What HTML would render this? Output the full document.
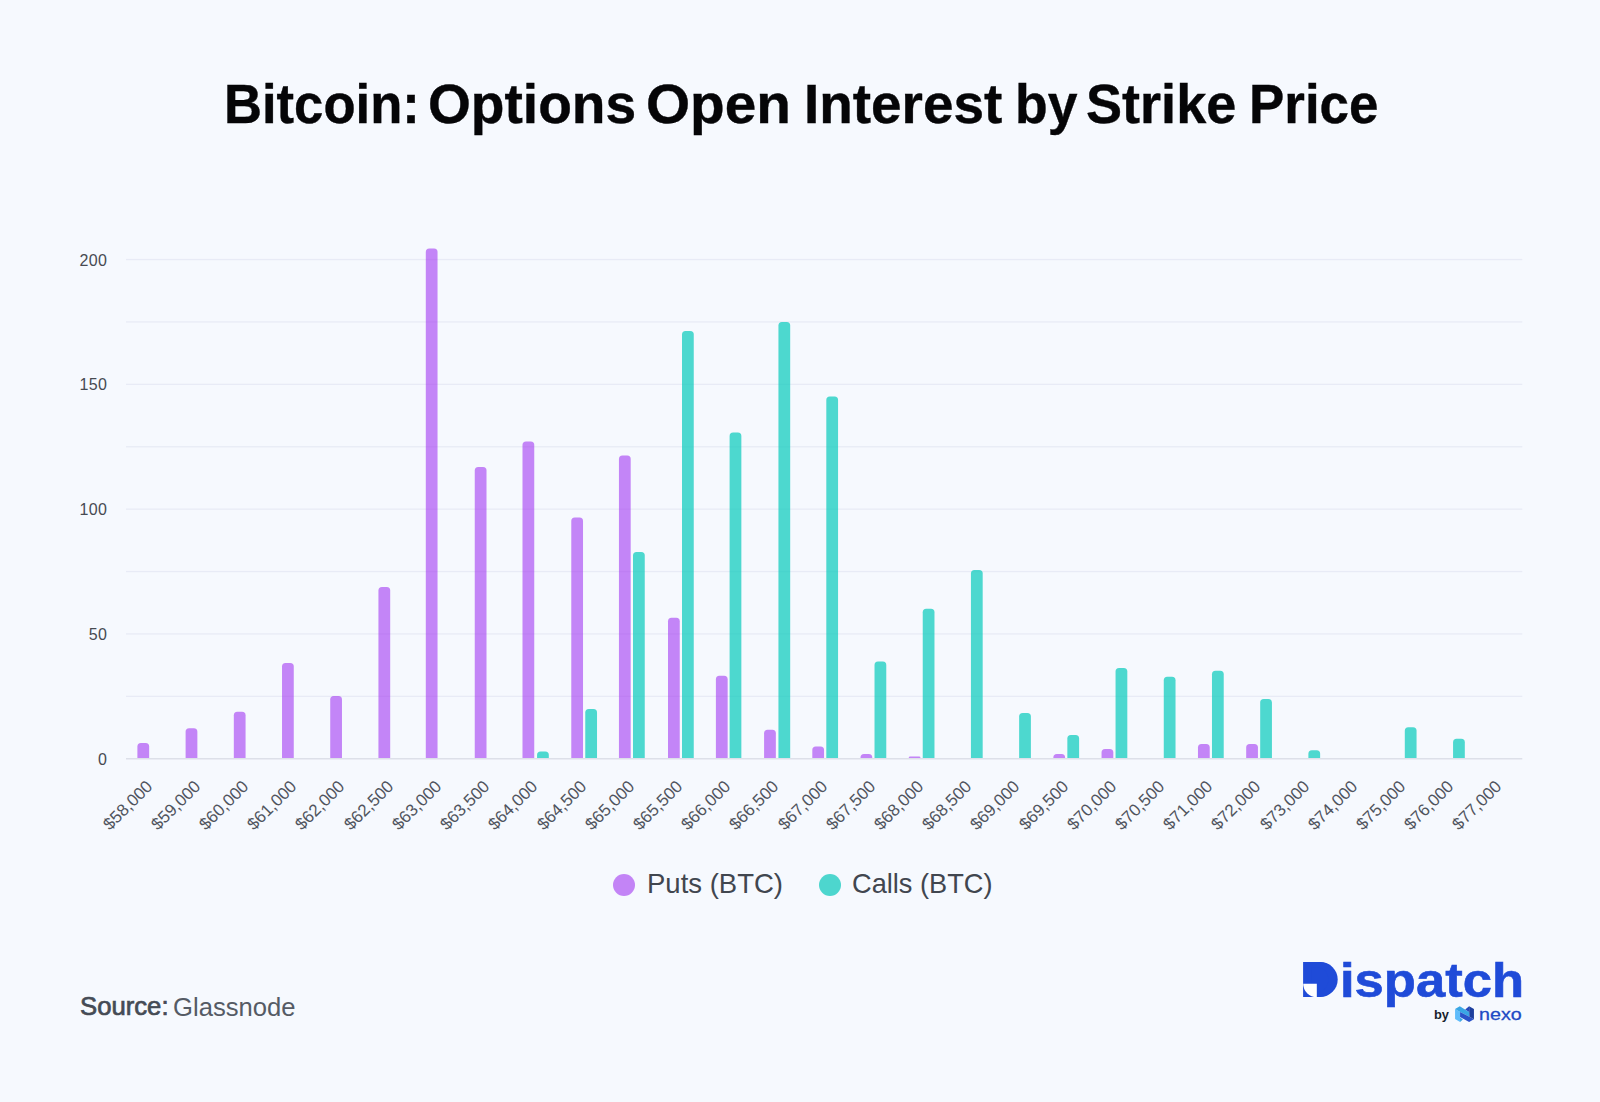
<!DOCTYPE html>
<html lang="en">
<head>
<meta charset="utf-8">
<title>Bitcoin: Options Open Interest by Strike Price</title>
<style>
html,body{margin:0;padding:0;}
body{width:1600px;height:1102px;background:#f6f9fe;position:relative;overflow:hidden;
  font-family:"Liberation Sans",sans-serif;color:#000;}
.abs{position:absolute;white-space:nowrap;}
.ft{position:absolute;white-space:nowrap;transform-origin:0 0;display:block;}
#chart{position:absolute;left:0;top:0;width:1600px;height:1102px;}
.xl{position:absolute;width:200px;height:20px;line-height:20px;text-align:right;font-size:17.0px;letter-spacing:0px;color:#50545d;
  transform-origin:100% 50%;transform:rotate(-45deg);white-space:nowrap;}
.dot{position:absolute;width:22px;height:22px;border-radius:50%;top:873.9px;}
</style>
</head>
<body>
<svg id="chart" width="1600" height="1102" viewBox="0 0 1600 1102">
<rect x="126" y="258.90" width="1396.3" height="1.3" fill="#e8ebf6"/>
<rect x="126" y="321.30" width="1396.3" height="1.3" fill="#e8ebf6"/>
<rect x="126" y="383.70" width="1396.3" height="1.3" fill="#e8ebf6"/>
<rect x="126" y="446.10" width="1396.3" height="1.3" fill="#e8ebf6"/>
<rect x="126" y="508.50" width="1396.3" height="1.3" fill="#e8ebf6"/>
<rect x="126" y="570.90" width="1396.3" height="1.3" fill="#e8ebf6"/>
<rect x="126" y="633.30" width="1396.3" height="1.3" fill="#e8ebf6"/>
<rect x="126" y="695.70" width="1396.3" height="1.3" fill="#e8ebf6"/>
<g>
<path d="M137.40 758.00V746.40Q137.40 742.90 140.90 742.90H145.65Q149.15 742.90 149.15 746.40V758.00Z" fill="rgba(162,55,241,0.6)"/>
<path d="M185.61 758.00V731.75Q185.61 728.25 189.11 728.25H193.86Q197.36 728.25 197.36 731.75V758.00Z" fill="rgba(162,55,241,0.6)"/>
<path d="M233.82 758.00V715.25Q233.82 711.75 237.32 711.75H242.07Q245.57 711.75 245.57 715.25V758.00Z" fill="rgba(162,55,241,0.6)"/>
<path d="M282.02 758.00V666.50Q282.02 663.00 285.52 663.00H290.27Q293.77 663.00 293.77 666.50V758.00Z" fill="rgba(162,55,241,0.6)"/>
<path d="M330.23 758.00V699.50Q330.23 696.00 333.73 696.00H338.48Q341.98 696.00 341.98 699.50V758.00Z" fill="rgba(162,55,241,0.6)"/>
<path d="M378.44 758.00V590.50Q378.44 587.00 381.94 587.00H386.69Q390.19 587.00 390.19 590.50V758.00Z" fill="rgba(162,55,241,0.6)"/>
<path d="M425.80 758.00V252.10Q425.80 248.60 429.30 248.60H434.05Q437.55 248.60 437.55 252.10V758.00Z" fill="rgba(162,55,241,0.6)"/>
<path d="M474.75 758.00V470.50Q474.75 467.00 478.25 467.00H483.00Q486.50 467.00 486.50 470.50V758.00Z" fill="rgba(162,55,241,0.6)"/>
<path d="M522.50 758.00V445.00Q522.50 441.50 526.00 441.50H530.75Q534.25 441.50 534.25 445.00V758.00Z" fill="rgba(162,55,241,0.6)"/>
<path d="M571.27 758.00V521.00Q571.27 517.50 574.77 517.50H579.52Q583.02 517.50 583.02 521.00V758.00Z" fill="rgba(162,55,241,0.6)"/>
<path d="M618.95 758.00V459.00Q618.95 455.50 622.45 455.50H627.20Q630.70 455.50 630.70 459.00V758.00Z" fill="rgba(162,55,241,0.6)"/>
<path d="M668.00 758.00V621.25Q668.00 617.75 671.50 617.75H676.25Q679.75 617.75 679.75 621.25V758.00Z" fill="rgba(162,55,241,0.6)"/>
<path d="M715.90 758.00V679.25Q715.90 675.75 719.40 675.75H724.15Q727.65 675.75 727.65 679.25V758.00Z" fill="rgba(162,55,241,0.6)"/>
<path d="M764.10 758.00V733.25Q764.10 729.75 767.60 729.75H772.35Q775.85 729.75 775.85 733.25V758.00Z" fill="rgba(162,55,241,0.6)"/>
<path d="M812.31 758.00V750.00Q812.31 746.50 815.81 746.50H820.56Q824.06 746.50 824.06 750.00V758.00Z" fill="rgba(162,55,241,0.6)"/>
<path d="M860.52 758.00V757.60Q860.52 754.10 864.02 754.10H868.77Q872.27 754.10 872.27 757.60V758.00Z" fill="rgba(162,55,241,0.6)"/>
<path d="M908.73 758.00V758.00Q908.73 756.60 910.13 756.60H919.08Q920.48 756.60 920.48 758.00V758.00Z" fill="rgba(162,55,241,0.6)"/>
<path d="M1053.35 758.00V757.60Q1053.35 754.10 1056.85 754.10H1061.60Q1065.10 754.10 1065.10 757.60V758.00Z" fill="rgba(162,55,241,0.6)"/>
<path d="M1101.56 758.00V752.50Q1101.56 749.00 1105.06 749.00H1109.81Q1113.31 749.00 1113.31 752.50V758.00Z" fill="rgba(162,55,241,0.6)"/>
<path d="M1197.98 758.00V747.50Q1197.98 744.00 1201.48 744.00H1206.23Q1209.73 744.00 1209.73 747.50V758.00Z" fill="rgba(162,55,241,0.6)"/>
<path d="M1246.18 758.00V747.50Q1246.18 744.00 1249.68 744.00H1254.43Q1257.93 744.00 1257.93 747.50V758.00Z" fill="rgba(162,55,241,0.6)"/>
<path d="M537.06 758.00V755.00Q537.06 751.50 540.56 751.50H545.31Q548.81 751.50 548.81 755.00V758.00Z" fill="rgba(20,204,191,0.75)"/>
<path d="M585.27 758.00V712.50Q585.27 709.00 588.77 709.00H593.52Q597.02 709.00 597.02 712.50V758.00Z" fill="rgba(20,204,191,0.75)"/>
<path d="M633.00 758.00V555.50Q633.00 552.00 636.50 552.00H641.25Q644.75 552.00 644.75 555.50V758.00Z" fill="rgba(20,204,191,0.75)"/>
<path d="M682.00 758.00V334.50Q682.00 331.00 685.50 331.00H690.25Q693.75 331.00 693.75 334.50V758.00Z" fill="rgba(20,204,191,0.75)"/>
<path d="M729.60 758.00V436.00Q729.60 432.50 733.10 432.50H737.85Q741.35 432.50 741.35 436.00V758.00Z" fill="rgba(20,204,191,0.75)"/>
<path d="M778.44 758.00V325.50Q778.44 322.00 781.94 322.00H786.69Q790.19 322.00 790.19 325.50V758.00Z" fill="rgba(20,204,191,0.75)"/>
<path d="M826.31 758.00V400.00Q826.31 396.50 829.81 396.50H834.56Q838.06 396.50 838.06 400.00V758.00Z" fill="rgba(20,204,191,0.75)"/>
<path d="M874.52 758.00V665.00Q874.52 661.50 878.02 661.50H882.77Q886.27 661.50 886.27 665.00V758.00Z" fill="rgba(20,204,191,0.75)"/>
<path d="M922.73 758.00V612.30Q922.73 608.80 926.23 608.80H930.98Q934.48 608.80 934.48 612.30V758.00Z" fill="rgba(20,204,191,0.75)"/>
<path d="M970.94 758.00V573.50Q970.94 570.00 974.44 570.00H979.19Q982.69 570.00 982.69 573.50V758.00Z" fill="rgba(20,204,191,0.75)"/>
<path d="M1019.14 758.00V716.60Q1019.14 713.10 1022.64 713.10H1027.39Q1030.89 713.10 1030.89 716.60V758.00Z" fill="rgba(20,204,191,0.75)"/>
<path d="M1067.35 758.00V738.50Q1067.35 735.00 1070.85 735.00H1075.60Q1079.10 735.00 1079.10 738.50V758.00Z" fill="rgba(20,204,191,0.75)"/>
<path d="M1115.56 758.00V671.50Q1115.56 668.00 1119.06 668.00H1123.81Q1127.31 668.00 1127.31 671.50V758.00Z" fill="rgba(20,204,191,0.75)"/>
<path d="M1163.77 758.00V680.30Q1163.77 676.80 1167.27 676.80H1172.02Q1175.52 676.80 1175.52 680.30V758.00Z" fill="rgba(20,204,191,0.75)"/>
<path d="M1211.98 758.00V674.30Q1211.98 670.80 1215.48 670.80H1220.23Q1223.73 670.80 1223.73 674.30V758.00Z" fill="rgba(20,204,191,0.75)"/>
<path d="M1260.18 758.00V702.60Q1260.18 699.10 1263.68 699.10H1268.43Q1271.93 699.10 1271.93 702.60V758.00Z" fill="rgba(20,204,191,0.75)"/>
<path d="M1308.39 758.00V753.80Q1308.39 750.30 1311.89 750.30H1316.64Q1320.14 750.30 1320.14 753.80V758.00Z" fill="rgba(20,204,191,0.75)"/>
<path d="M1404.81 758.00V730.70Q1404.81 727.20 1408.31 727.20H1413.06Q1416.56 727.20 1416.56 730.70V758.00Z" fill="rgba(20,204,191,0.75)"/>
<path d="M1453.07 758.00V742.20Q1453.07 738.70 1456.57 738.70H1461.32Q1464.82 738.70 1464.82 742.20V758.00Z" fill="rgba(20,204,191,0.75)"/>
</g>
<rect x="126" y="758.00" width="1396.3" height="1.5" fill="#dde0e9"/>
</svg>
<h1 style="margin:0;font-size:inherit;font-weight:inherit"><span class="ft" style="left:223.70px;top:70.45px;font-size:55.89px;line-height:67px;font-weight:700;-webkit-text-stroke:0.4px #050507;color:#050507;transform:scaleX(0.9415)">Bitcoin:</span> <span class="ft" style="left:428.03px;top:70.45px;font-size:55.89px;line-height:67px;font-weight:700;-webkit-text-stroke:0.4px #050507;color:#050507;transform:scaleX(0.9860)">Options</span> <span class="ft" style="left:646.37px;top:70.45px;font-size:55.89px;line-height:67px;font-weight:700;-webkit-text-stroke:0.4px #050507;color:#050507;transform:scaleX(1.0145)">Open</span> <span class="ft" style="left:803.56px;top:70.45px;font-size:55.89px;line-height:67px;font-weight:700;-webkit-text-stroke:0.4px #050507;color:#050507;transform:scaleX(0.9826)">Interest</span> <span class="ft" style="left:1014.75px;top:70.45px;font-size:55.89px;line-height:67px;font-weight:700;-webkit-text-stroke:0.4px #050507;color:#050507;transform:scaleX(0.9571)">by</span> <span class="ft" style="left:1086.35px;top:70.45px;font-size:55.89px;line-height:67px;font-weight:700;-webkit-text-stroke:0.4px #050507;color:#050507;transform:scaleX(0.9678)">Strike</span> <span class="ft" style="left:1249.08px;top:70.45px;font-size:55.89px;line-height:67px;font-weight:700;-webkit-text-stroke:0.4px #050507;color:#050507;transform:scaleX(0.9475)">Price</span></h1>
<div>
<span class="ft" style="left:79.55px;top:250.55px;font-size:16px;line-height:20px;letter-spacing:0.3px;color:#474a52">200</span>
<span class="ft" style="left:79.55px;top:375.35px;font-size:16px;line-height:20px;letter-spacing:0.3px;color:#474a52">150</span>
<span class="ft" style="left:79.55px;top:500.15px;font-size:16px;line-height:20px;letter-spacing:0.3px;color:#474a52">100</span>
<span class="ft" style="left:88.80px;top:624.95px;font-size:16px;line-height:20px;letter-spacing:0.3px;color:#474a52">50</span>
<span class="ft" style="left:98.05px;top:749.75px;font-size:16px;line-height:20px;letter-spacing:0.3px;color:#474a52">0</span>
</div>
<div>
<div class="xl" style="left:-50.35px;top:774.40px">$58,000</div>
<div class="xl" style="left:-2.14px;top:774.40px">$59,000</div>
<div class="xl" style="left:46.07px;top:774.40px">$60,000</div>
<div class="xl" style="left:94.27px;top:774.40px">$61,000</div>
<div class="xl" style="left:142.48px;top:774.40px">$62,000</div>
<div class="xl" style="left:190.69px;top:774.40px">$62,500</div>
<div class="xl" style="left:238.90px;top:774.40px">$63,000</div>
<div class="xl" style="left:287.11px;top:774.40px">$63,500</div>
<div class="xl" style="left:335.31px;top:774.40px">$64,000</div>
<div class="xl" style="left:383.52px;top:774.40px">$64,500</div>
<div class="xl" style="left:431.73px;top:774.40px">$65,000</div>
<div class="xl" style="left:479.94px;top:774.40px">$65,500</div>
<div class="xl" style="left:528.15px;top:774.40px">$66,000</div>
<div class="xl" style="left:576.35px;top:774.40px">$66,500</div>
<div class="xl" style="left:624.56px;top:774.40px">$67,000</div>
<div class="xl" style="left:672.77px;top:774.40px">$67,500</div>
<div class="xl" style="left:720.98px;top:774.40px">$68,000</div>
<div class="xl" style="left:769.19px;top:774.40px">$68,500</div>
<div class="xl" style="left:817.39px;top:774.40px">$69,000</div>
<div class="xl" style="left:865.60px;top:774.40px">$69,500</div>
<div class="xl" style="left:913.81px;top:774.40px">$70,000</div>
<div class="xl" style="left:962.02px;top:774.40px">$70,500</div>
<div class="xl" style="left:1010.23px;top:774.40px">$71,000</div>
<div class="xl" style="left:1058.43px;top:774.40px">$72,000</div>
<div class="xl" style="left:1106.64px;top:774.40px">$73,000</div>
<div class="xl" style="left:1154.85px;top:774.40px">$74,000</div>
<div class="xl" style="left:1203.06px;top:774.40px">$75,000</div>
<div class="xl" style="left:1251.27px;top:774.40px">$76,000</div>
<div class="xl" style="left:1299.47px;top:774.40px">$77,000</div>
</div>
<div class="dot" style="left:613px;background:#c384f6"></div>
<span class="ft" style="left:646.97px;top:867.25px;font-size:27.78px;line-height:33px;color:#41464f;transform:scaleX(0.9906)">Puts (BTC)</span>
<div class="dot" style="left:818.5px;background:#4dd6ce"></div>
<span class="ft" style="left:852.03px;top:867.25px;font-size:27.78px;line-height:33px;color:#41464f;transform:scaleX(0.9797)">Calls (BTC)</span>
<div><span class="ft" style="left:79.55px;top:990.95px;font-size:25.75px;line-height:31px;-webkit-text-stroke:0.7px #454b55;color:#454b55;transform:scaleX(0.9977)">Source:</span> <span class="ft" style="left:172.94px;top:992.10px;font-size:25.52px;line-height:31px;color:#555b65;transform:scaleX(1.0050)">Glassnode</span></div>
<svg class="abs" style="left:1300px;top:955px" width="50" height="50" viewBox="0 0 50 50">
<path d="M3.2 7H20.2A17.5 17.5 0 0 1 20.2 42H3.2Z" fill="#1f4bd8"/>
</svg>
<div><span class="ft" style="left:1299.98px;top:949.70px;font-size:50.26px;line-height:60px;font-weight:700;color:#1f4bd8;transform:scaleX(1.0516)">D</span><span class="ft" style="left:1339.59px;top:951.75px;font-size:47.61px;line-height:57px;font-weight:700;-webkit-text-stroke:0.6px #1f4bd8;color:#1f4bd8;transform:scaleX(1.1043)">ispatch</span></div>
<svg class="abs" style="left:1300px;top:955px" width="50" height="50" viewBox="0 0 50 50">
<path d="M3.2 28.8H16.8V42.2A13.5 13.4 0 0 1 3.2 28.8Z" fill="#ffffff"/>
</svg>
<span class="ft" style="left:1433.94px;top:1008.05px;font-size:12.66px;line-height:15px;font-weight:700;color:#191e2c;transform:scaleX(1.0143)">by</span>
<svg class="abs" style="left:1454.9px;top:1006.4px" width="19" height="16" viewBox="0 0 18.4 15.6">
<polygon points="0,3.0 4.9,5.8 4.9,15.5 0,12.7" fill="#5fbcfb"/>
<polygon points="4.9,11.3 7.6,13.1 4.9,15.5" fill="#39a6e4"/>
<polygon points="0,3.0 4.6,0.3 14,6.0 14,10.5 4.9,5.8" fill="#39a6e4"/>
<polygon points="4.9,5.8 14,10.5 18.4,13 13.7,15.5 4.9,10.8" fill="#2a52c9"/>
<polygon points="9.9,3.4 13.7,0.3 14,6.0" fill="#2648bc"/>
<polygon points="13.7,0.3 18.4,3.0 18.4,13 14,10.5" fill="#1c3e9d"/>
</svg>
<span class="ft" style="left:1478.85px;top:1003.55px;font-size:17.17px;line-height:21px;-webkit-text-stroke:0.3px #2049c4;color:#2049c4;transform:scaleX(1.1465)">nexo</span>
</body>
</html>
